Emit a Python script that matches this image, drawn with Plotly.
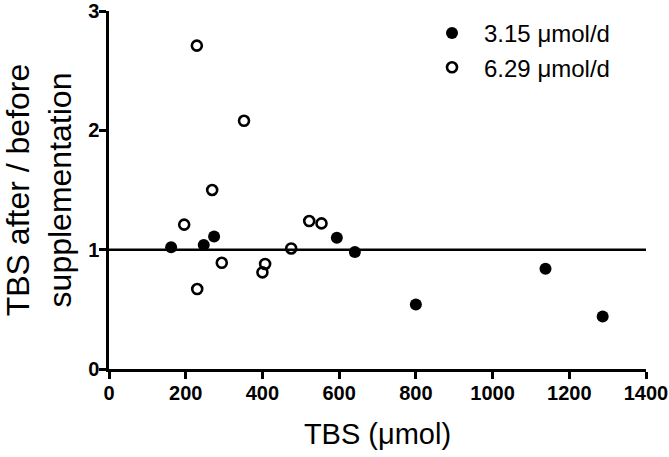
import plotly.graph_objects as go

# Data
x_315 = [162, 247, 274, 594, 641, 800, 1138, 1287]
y_315 = [1.02, 1.04, 1.11, 1.10, 0.98, 0.54, 0.84, 0.44]

x_629 = [196, 229, 230, 269, 294, 352, 400, 407, 475, 522, 554]
y_629 = [1.21, 2.71, 0.67, 1.50, 0.89, 2.08, 0.81, 0.88, 1.01, 1.24, 1.22]

series_names = ["3.15 μmol/d", "6.29 μmol/d"]
x_ticks = [0, 200, 400, 600, 800, 1000, 1200, 1400]
y_ticks = [0, 1, 2, 3]
reference_y = 1

FONT = "Liberation Sans, Arial, sans-serif"
GAP = "\u2002"

fig = go.Figure()
fig.add_trace(go.Scatter(
    x=x_315, y=y_315, mode="markers", name=GAP + series_names[0],
    marker=dict(symbol="circle", size=12, color="black", line=dict(width=0)),
    cliponaxis=False,
))
fig.add_trace(go.Scatter(
    x=x_629, y=y_629, mode="markers", name=GAP + series_names[1],
    marker=dict(symbol="circle-open", size=10, color="black", line=dict(width=2.6)),
    cliponaxis=False,
))

fig.add_shape(type="line", xref="x", yref="y",
              x0=x_ticks[0], x1=x_ticks[-1], y0=reference_y, y1=reference_y,
              line=dict(color="black", width=2.5))

axis_common = dict(
    showgrid=False, zeroline=False, showline=True, linecolor="black", linewidth=2.5,
    ticks="outside", ticklen=7, tickwidth=2.5, tickcolor="black", automargin=False,
    tickfont=dict(family=FONT, size=20, color="black", weight="bold"),
)

fig.update_layout(
    width=669, height=457,
    margin=dict(l=109, r=23, t=11, b=88),
    paper_bgcolor="white", plot_bgcolor="white",
    showlegend=True,
    legend=dict(x=0.6015, y=1.0, xanchor="left", yanchor="top",
                font=dict(family=FONT, size=24, color="black"),
                bgcolor="rgba(0,0,0,0)", itemwidth=30, tracegroupgap=0),
    xaxis=dict(range=[x_ticks[0], x_ticks[-1]], tickvals=x_ticks, ticklabelstandoff=-3,
               tickangle=0,
               title=dict(text="TBS (μmol)", font=dict(family=FONT, size=29, color="black"), standoff=21),
               **axis_common),
    yaxis=dict(range=[y_ticks[0], y_ticks[-1]], tickvals=y_ticks, ticklabelstandoff=-4,
               title=dict(text="TBS after / before<br>supplementation", font=dict(family=FONT, size=32, color="black"), standoff=36),
               **axis_common),
)

fig.write_html("out.html", config={"displayModeBar": False},
               post_script="document.body.style.margin='0';")
